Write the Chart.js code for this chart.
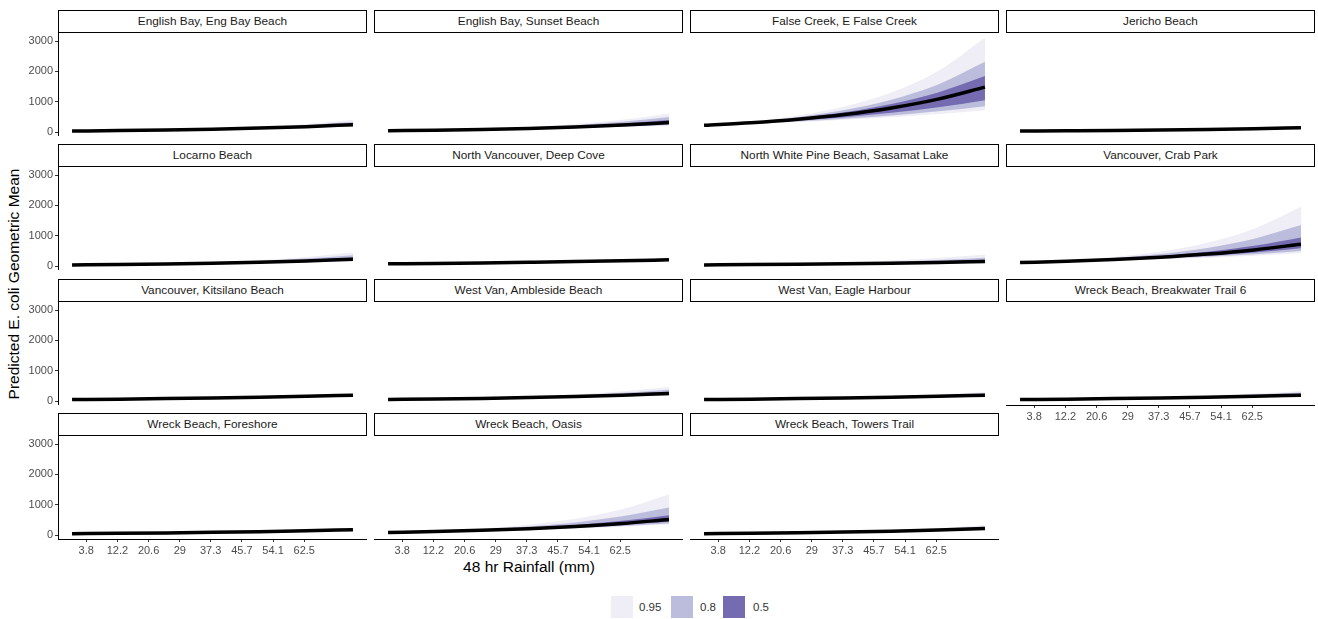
<!DOCTYPE html>
<html>
<head>
<meta charset="utf-8">
<script src="https://cdn.jsdelivr.net/npm/chart.js@4.4.0/dist/chart.umd.min.js"></script>
<style>
  body { margin: 0; background: #fff; width: 1318px; height: 619px; position: relative; overflow: hidden;
         font-family: 'Liberation Sans', Arial, sans-serif; }
  .strip { position: absolute; box-sizing: border-box; border: 1px solid #000; background: #fff;
           font-size: 11.8px; color: #1a1a1a; text-align: center; line-height: 21px; white-space: nowrap; }
  canvas { position: absolute; }
  .axis-title { position: absolute; font-size: 15.5px; color: #000; white-space: nowrap; }
  .key { position: absolute; width: 22px; height: 22px; }
  .key-label { position: absolute; font-size: 11.5px; color: #333; line-height: 22px; }
</style>
</head>
<body>
<div class="axis-title" style="left:529px;top:558px;transform:translateX(-50%);">48 hr Rainfall (mm)</div>
<div class="axis-title" style="left:14px;top:284px;transform:translate(-50%,-50%) rotate(-90deg);">Predicted E. coli Geometric Mean</div>

<script>
// x positions of the predictions (mm of rain in 48 h)
const rainfall = [0, 12.6, 25.2, 37.8, 50.4, 63, 75.6];
const xTicks = [3.8, 12.2, 20.6, 29, 37.3, 45.7, 54.1, 62.5];
const xTickLabels = ['3.8', '12.2', '20.6', '29', '37.3', '45.7', '54.1', '62.5'];
const yTicks = [0, 1000, 2000, 3000];

const sites = [
  'English Bay, Eng Bay Beach', 'English Bay, Sunset Beach', 'False Creek, E False Creek', 'Jericho Beach',
  'Locarno Beach', 'North Vancouver, Deep Cove', 'North White Pine Beach, Sasamat Lake', 'Vancouver, Crab Park',
  'Vancouver, Kitsilano Beach', 'West Van, Ambleside Beach', 'West Van, Eagle Harbour', 'Wreck Beach, Breakwater Trail 6',
  'Wreck Beach, Foreshore', 'Wreck Beach, Oasis', 'Wreck Beach, Towers Trail'
];

const median = [
  [40, 54, 74, 100, 136, 184, 250],
  [50, 68, 93, 126, 172, 235, 320],
  [231, 315, 430, 586, 800, 1091, 1485],
  [40, 50, 61, 76, 94, 117, 145],
  [43, 57, 75, 100, 132, 174, 230],
  [80, 94, 110, 130, 152, 179, 210],
  [43, 53, 66, 82, 101, 125, 155],
  [120, 162, 219, 295, 399, 538, 726],
  [56, 69, 86, 106, 131, 162, 200],
  [56, 72, 93, 119, 153, 197, 254],
  [56, 69, 86, 106, 131, 162, 200],
  [56, 69, 86, 106, 131, 162, 200],
  [50, 62, 77, 95, 117, 145, 180],
  [89, 119, 160, 215, 288, 386, 518],
  [50, 64, 82, 105, 134, 172, 220]
];
const hi95 = [
  [40, 59, 86, 126, 185, 272, 400],
  [50, 76, 116, 176, 268, 407, 620],
  [238, 356, 549, 847, 1306, 2014, 3110],
  [40, 52, 68, 90, 117, 153, 200],
  [43, 64, 94, 139, 206, 304, 450],
  [80, 99, 123, 152, 188, 234, 290],
  [43, 62, 89, 129, 185, 267, 385],
  [120, 191, 305, 485, 773, 1231, 1957],
  [56, 72, 93, 121, 156, 201, 260],
  [56, 80, 114, 162, 231, 330, 470],
  [56, 74, 98, 130, 172, 227, 300],
  [56, 76, 102, 138, 186, 251, 340],
  [50, 65, 84, 108, 140, 182, 235],
  [89, 140, 220, 346, 544, 855, 1343],
  [50, 69, 94, 129, 176, 241, 330]
];
const hi80 = [
  [40, 57, 82, 117, 167, 239, 340],
  [50, 73, 108, 158, 232, 341, 500],
  [235, 339, 497, 729, 1070, 1570, 2320],
  [40, 51, 66, 85, 109, 140, 180],
  [43, 61, 87, 124, 177, 252, 360],
  [80, 97, 118, 144, 175, 213, 260],
  [43, 59, 80, 110, 150, 205, 280],
  [120, 180, 269, 403, 604, 904, 1353],
  [56, 71, 91, 116, 148, 188, 240],
  [56, 77, 106, 146, 201, 276, 380],
  [56, 73, 94, 122, 158, 205, 265],
  [56, 74, 97, 127, 167, 220, 290],
  [50, 64, 81, 104, 132, 169, 215],
  [89, 131, 194, 286, 421, 622, 914],
  [50, 67, 90, 120, 161, 216, 290]
];
const hi50 = [
  [40, 56, 77, 108, 150, 208, 290],
  [50, 71, 100, 141, 200, 283, 400],
  [233, 327, 463, 655, 926, 1311, 1848],
  [40, 51, 64, 81, 102, 129, 162],
  [43, 59, 81, 112, 154, 211, 290],
  [80, 96, 115, 137, 164, 196, 235],
  [43, 56, 73, 95, 124, 161, 210],
  [120, 169, 239, 337, 476, 671, 947],
  [56, 70, 89, 112, 141, 177, 222],
  [56, 74, 99, 132, 175, 233, 310],
  [56, 71, 90, 115, 146, 185, 235],
  [56, 72, 92, 117, 150, 192, 245],
  [50, 63, 79, 99, 125, 157, 198],
  [89, 124, 174, 243, 339, 474, 660],
  [50, 66, 86, 113, 148, 194, 255]
];
const lo50 = [
  [40, 53, 70, 93, 123, 162, 215],
  [50, 66, 87, 114, 150, 198, 260],
  [229, 298, 384, 495, 638, 822, 1056],
  [40, 49, 59, 72, 88, 107, 130],
  [43, 55, 71, 91, 118, 151, 195],
  [80, 92, 107, 123, 142, 165, 190],
  [43, 51, 61, 73, 88, 105, 125],
  [120, 157, 204, 267, 348, 455, 594],
  [56, 68, 83, 101, 123, 150, 182],
  [56, 70, 88, 110, 137, 172, 215],
  [56, 68, 83, 100, 122, 148, 180],
  [56, 68, 81, 98, 118, 143, 172],
  [50, 61, 74, 91, 111, 135, 165],
  [89, 116, 152, 198, 258, 337, 440],
  [50, 63, 79, 99, 124, 156, 195]
];
const lo80 = [
  [40, 52, 68, 88, 115, 150, 195],
  [50, 65, 84, 108, 140, 182, 235],
  [227, 287, 357, 445, 553, 688, 858],
  [40, 48, 58, 69, 83, 100, 120],
  [43, 54, 69, 87, 110, 139, 175],
  [80, 91, 105, 120, 137, 156, 178],
  [43, 50, 59, 69, 80, 94, 110],
  [120, 152, 194, 246, 312, 397, 505],
  [56, 67, 81, 98, 117, 141, 170],
  [56, 69, 85, 105, 129, 158, 195],
  [56, 67, 81, 97, 117, 140, 168],
  [56, 67, 79, 94, 112, 134, 160],
  [50, 60, 73, 88, 106, 128, 155],
  [89, 114, 145, 185, 236, 302, 385],
  [50, 62, 77, 95, 117, 145, 180]
];
const lo95 = [
  [40, 51, 66, 85, 109, 140, 180],
  [50, 64, 81, 104, 132, 169, 215],
  [224, 280, 338, 409, 495, 599, 726],
  [40, 47, 56, 67, 79, 94, 112],
  [43, 54, 67, 83, 103, 129, 160],
  [80, 91, 103, 116, 131, 149, 168],
  [43, 49, 57, 66, 75, 87, 100],
  [120, 148, 183, 227, 280, 346, 429],
  [56, 67, 79, 94, 112, 134, 160],
  [56, 68, 83, 100, 122, 148, 180],
  [56, 67, 79, 94, 112, 133, 158],
  [56, 66, 78, 92, 108, 127, 150],
  [50, 60, 72, 86, 103, 123, 147],
  [89, 112, 141, 178, 224, 282, 353],
  [50, 61, 75, 92, 113, 139, 170]
];

const levels = ['0.95', '0.8', '0.5'];
const levelColors = ['#efedf5', '#bcbddc', '#756bb1'];

const font = { family: "'Liberation Sans', Arial, sans-serif", size: 11 };
const colLeft = [58, 374, 690, 1006];
const stripTops = [10, 144, 279, 413];
const panelW = 309, stripH = 23, plotH = 103, yAxisW = 58, xAxisH = 30;

function pts(arr) { return arr.map((v, i) => ({ x: rainfall[i], y: v })); }

function bandSets(lo, hi, color, order) {
  const common = { pointRadius: 0, borderWidth: 0, cubicInterpolationMode: 'monotone', order: order };
  return [
    Object.assign({ data: pts(lo), fill: false }, common),
    Object.assign({ data: pts(hi), fill: '-1', backgroundColor: color }, common)
  ];
}

sites.forEach((name, i) => {
  const r = Math.floor(i / 4), c = i % 4;
  const first = c === 0;
  const bottom = i >= 11;

  const strip = document.createElement('div');
  strip.className = 'strip';
  strip.textContent = name;
  strip.style.left = colLeft[c] + 'px';
  strip.style.top = stripTops[r] + 'px';
  strip.style.width = panelW + 'px';
  strip.style.height = stripH + 'px';
  document.body.appendChild(strip);

  const w = panelW + (first ? yAxisW : 0);
  const h = plotH + (bottom ? xAxisH : 0);
  const cv = document.createElement('canvas');
  cv.width = w; cv.height = h;
  cv.style.width = w + 'px'; cv.style.height = h + 'px';
  cv.style.left = (colLeft[c] - (first ? yAxisW : 0)) + 'px';
  cv.style.top = (stripTops[r] + stripH) + 'px';
  document.body.appendChild(cv);

  const datasets = [
    ...bandSets(lo95[i], hi95[i], levelColors[0], 3),
    ...bandSets(lo80[i], hi80[i], levelColors[1], 2),
    ...bandSets(lo50[i], hi50[i], levelColors[2], 1),
    { data: pts(median[i]), borderColor: '#000', borderWidth: 3.5, pointRadius: 0, fill: false,
      cubicInterpolationMode: 'monotone', order: 0 }
  ];

  new Chart(cv, {
    type: 'line',
    data: { datasets: datasets },
    options: {
      responsive: false,
      animation: false,
      layout: { padding: 0, autoPadding: false },
      plugins: { legend: { display: false }, tooltip: { enabled: false } },
      scales: {
        x: {
          type: 'linear', min: -3.78, max: 79.38,
          display: bottom,
          afterBuildTicks: s => { s.ticks = xTicks.map(v => ({ value: v })); },
          afterFit: s => { s.height = bottom ? xAxisH : 0; s.paddingLeft = 0; s.paddingRight = 0; },
          ticks: { callback: (v, idx) => xTickLabels[idx], color: '#4d4d4d', font: font, padding: 2,
                   maxRotation: 0, autoSkip: false },
          grid: { display: true, drawOnChartArea: false, drawTicks: true, tickLength: 3, color: '#333' },
          border: { display: true, color: '#000', width: 1 }
        },
        y: {
          type: 'linear', min: -124, max: 3266,
          display: first,
          afterBuildTicks: s => { s.ticks = yTicks.map(v => ({ value: v })); },
          afterFit: s => { s.width = first ? yAxisW : 0; s.paddingTop = 0; s.paddingBottom = 0; },
          ticks: { callback: v => String(v), color: '#4d4d4d', font: font, padding: 2 },
          grid: { display: true, drawOnChartArea: false, drawTicks: true, tickLength: 3, color: '#333' },
          border: { display: true, color: '#000', width: 1 }
        }
      }
    }
  });
});

// legend for the interval widths
const keyLeft = [611, 671, 723];
const labelLeft = [639, 700, 753];
levels.forEach((lv, k) => {
  const sq = document.createElement('div');
  sq.className = 'key';
  sq.style.left = keyLeft[k] + 'px';
  sq.style.top = '596px';
  sq.style.background = levelColors[k];
  document.body.appendChild(sq);
  const lb = document.createElement('div');
  lb.className = 'key-label';
  lb.style.left = labelLeft[k] + 'px';
  lb.style.top = '596px';
  lb.textContent = lv;
  document.body.appendChild(lb);
});
</script>
</body>
</html>
